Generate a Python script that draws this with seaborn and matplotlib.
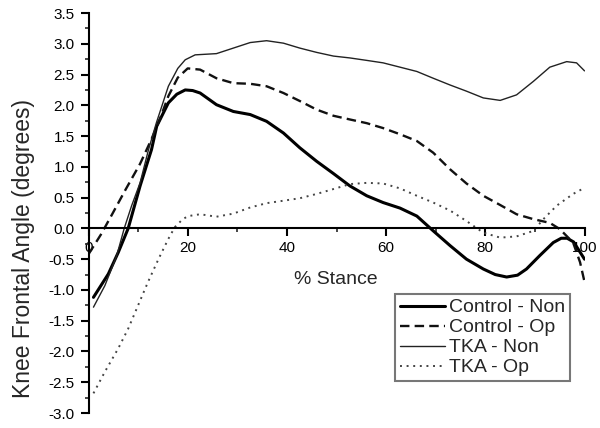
import matplotlib
matplotlib.use("Agg")
import matplotlib.pyplot as plt
import seaborn as sns
from matplotlib.ticker import MultipleLocator, FormatStrFormatter

sns.set_style("ticks")
plt.rcParams['font.family'] = ['Liberation Sans', 'DejaVu Sans']
plt.rcParams['axes.unicode_minus'] = False

# Control - Non (thick solid)
cn_x = [1, 4, 6, 8, 10.4, 12.7, 13.75, 16.1, 17.8, 19.5, 21, 22.5, 25.8, 29.2, 32.6, 35.9,
        39.3, 42.6, 46, 49.4, 52.7, 56.1, 59.4, 62.8, 66.2, 69.5, 72.9, 76.2, 79.6, 82,
        84.3, 86.5, 88.3, 91, 93.7, 95.3, 96.5, 97.8, 100]
cn_y = [-1.12, -0.74, -0.39, 0.0, 0.69, 1.28, 1.66, 2.04, 2.18, 2.25, 2.24, 2.2, 2.01, 1.9, 1.85, 1.74,
        1.55, 1.31, 1.09, 0.89, 0.69, 0.53, 0.42, 0.33, 0.2, -0.04, -0.28, -0.5, -0.66, -0.75,
        -0.79, -0.76, -0.66, -0.44, -0.23, -0.16, -0.16, -0.22, -0.5]

# Control - Op (dashed)
co_x = [0, 2.5, 4.7, 7.4, 10.4, 12.7, 14.5, 16.1, 18, 20, 22.5, 25.8, 29.2, 32.6, 35.9, 39.3,
        42.6, 46, 49.4, 52.7, 56.1, 59.4, 62.8, 66.2, 69.5, 72.9, 76.2, 79.6, 83, 86.3, 89.7,
        93, 95, 97.7, 99.1, 100]
co_y = [-0.42, -0.1, 0.22, 0.62, 1.05, 1.45, 1.8, 2.15, 2.45, 2.6, 2.58, 2.44, 2.36, 2.35, 2.31, 2.2,
        2.07, 1.93, 1.83, 1.77, 1.71, 1.63, 1.53, 1.42, 1.23, 0.96, 0.73, 0.53, 0.38, 0.23, 0.15,
        0.09, -0.01, -0.23, -0.55, -0.87]

# TKA - Non (thin solid)
tn_x = [1, 3.3, 5.7, 7.2, 8.7, 10.4, 12.1, 13.7, 16.1, 18, 19.5, 21.5, 25.8, 29.2, 32.6, 35.9,
        39.3, 42.6, 46, 49.4, 52.7, 56.1, 59.4, 62.8, 66.2, 69.5, 72.9, 76.2, 79.6, 83, 86.3,
        89.7, 93, 96.4, 98.4, 100]
tn_y = [-1.28, -0.93, -0.44, 0.0, 0.37, 0.74, 1.28, 1.72, 2.31, 2.6, 2.74, 2.82, 2.84, 2.93, 3.02, 3.05,
        3.01, 2.93, 2.86, 2.8, 2.77, 2.73, 2.69, 2.62, 2.55, 2.44, 2.33, 2.23, 2.12, 2.08, 2.17,
        2.39, 2.62, 2.71, 2.69, 2.56]

# TKA - Op (dotted)
to_x = [1, 3.3, 6, 8, 10, 12, 14.1, 16.1, 17.4, 19, 20.1, 22.5, 25.8, 29.2, 32.6, 35.9, 39.3,
        42.6, 46, 49.4, 52.7, 56.1, 59.4, 62.8, 66.2, 69.5, 72.9, 76.2, 79.6, 83, 86.3, 89.7,
        91.7, 94.4, 97.7, 100]
to_y = [-2.68, -2.33, -1.95, -1.63, -1.25, -0.87, -0.5, -0.17, 0.02, 0.15, 0.2, 0.23, 0.19, 0.24, 0.34,
        0.41, 0.45, 0.49, 0.56, 0.64, 0.72, 0.74, 0.73, 0.65, 0.53, 0.42, 0.29, 0.12, -0.07, -0.15,
        -0.13, -0.04, 0.15, 0.37, 0.56, 0.66]

fig = plt.figure(figsize=(6, 4.28), dpi=100)
ax = fig.add_axes([0.1475, 0.035, 0.8267, 0.9346])

sns.lineplot(x=cn_x, y=cn_y, ax=ax, sort=False, estimator=None, color='black',
             linewidth=2.2, label='Control - Non')
sns.lineplot(x=co_x, y=co_y, ax=ax, sort=False, estimator=None, color='#111111',
             linewidth=1.7, linestyle=(0, (4, 2.2)), label='Control - Op')
sns.lineplot(x=tn_x, y=tn_y, ax=ax, sort=False, estimator=None, color='#222222',
             linewidth=1.0, label='TKA - Non')
sns.lineplot(x=to_x, y=to_y, ax=ax, sort=False, estimator=None, color='#444444',
             linewidth=1.4, linestyle=(0, (1, 2.4)), label='TKA - Op')

ax.set_xlim(0, 100)
ax.set_ylim(-3.0, 3.5)
ax.spines['top'].set_visible(False)
ax.spines['right'].set_visible(False)
ax.spines['bottom'].set_position(('data', 0))
for s in ('left', 'bottom'):
    ax.spines[s].set_linewidth(1.5)
    ax.spines[s].set_color('black')

ax.xaxis.set_major_locator(MultipleLocator(20))
ax.xaxis.set_minor_locator(MultipleLocator(10))
ax.yaxis.set_major_locator(MultipleLocator(0.5))
ax.yaxis.set_minor_locator(MultipleLocator(0.25))
ax.yaxis.set_major_formatter(FormatStrFormatter('%.1f'))
ax.tick_params(axis='both', which='major', direction='out', length=6, width=1.5,
               labelsize=11, colors='black')
ax.tick_params(axis='both', which='minor', direction='out', length=3, width=1.2)
ax.tick_params(axis='x', which='major', pad=3)
ax.tick_params(axis='y', which='major', pad=4)

ax.set_xlabel('% Stance', fontsize=14)
ax.xaxis.label.set_va('center')
ax.xaxis.set_label_coords(0.499, 0.333)
ax.set_ylabel('Knee Frontal Angle (degrees)', fontsize=16.5)
ax.yaxis.label.set_va('center')
ax.yaxis.set_label_coords(-0.132, 0.4125)

handles, labels = ax.get_legend_handles_labels()
leg = ax.legend(handles, labels, loc='upper left', bbox_to_anchor=(0.618, 0.2975),
                borderaxespad=0, fontsize=14, handlelength=2.3, handletextpad=0.25,
                labelspacing=0.12, borderpad=0.25, fancybox=False, framealpha=1)
leg.get_frame().set_edgecolor('#777777')
leg.get_frame().set_linewidth(1.5)

fig.savefig('out.png', dpi=100)
